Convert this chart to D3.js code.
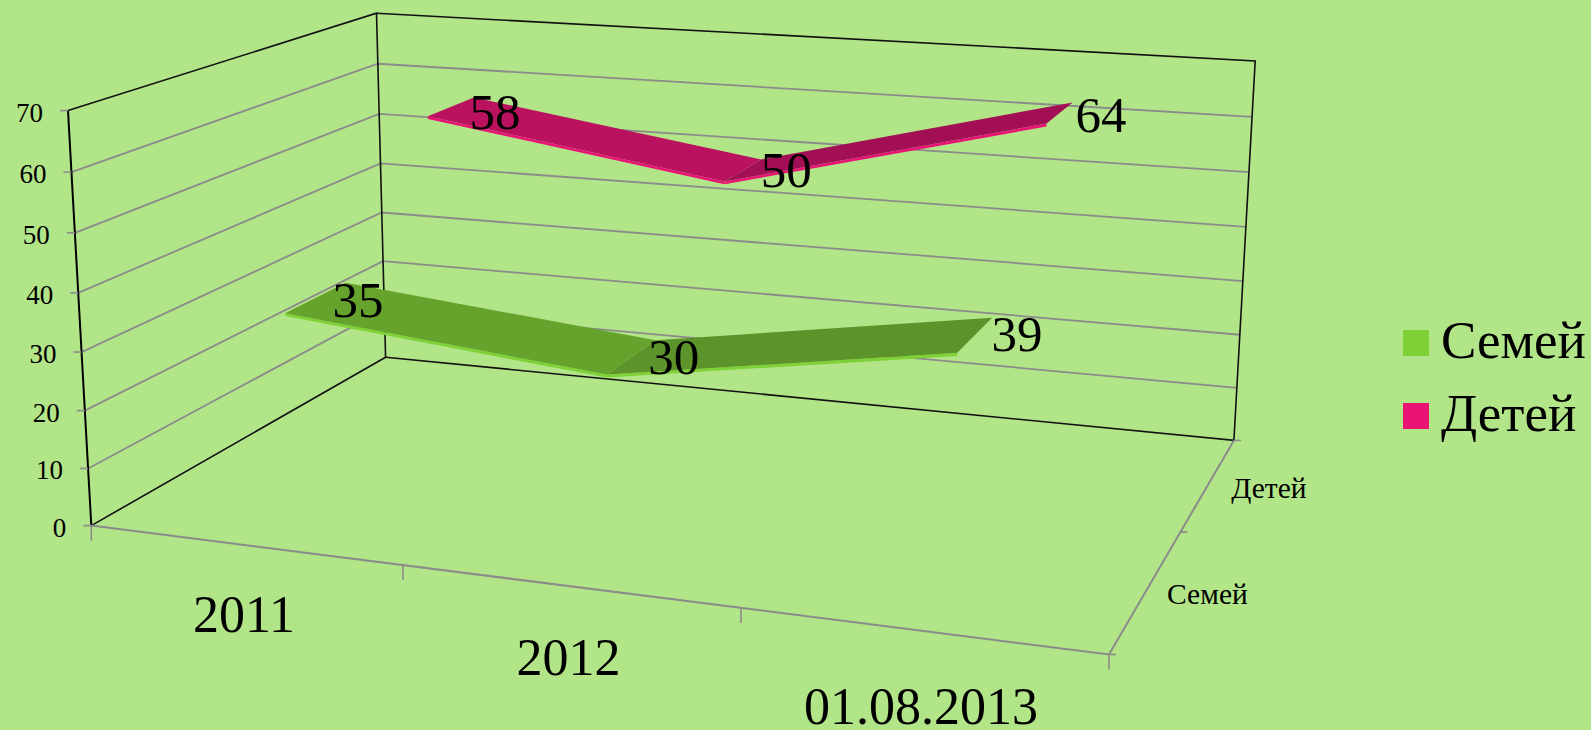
<!DOCTYPE html>
<html>
<head>
<meta charset="utf-8">
<script src="https://cdn.jsdelivr.net/npm/d3@7"></script>
<style>
  html, body { margin: 0; padding: 0; background: #b2e488; overflow: hidden; }
  text { font-family: "Liberation Serif", serif; fill: #000; }
</style>
</head>
<body>
<script>
// --- Data ---
const categories = ["2011", "2012", "01.08.2013"];
const seriesNames = ["Семей", "Детей"];
const familyValues = [35, 30, 39];
const childValues = [58, 50, 64];
const valueTicks = [0, 10, 20, 30, 40, 50, 60, 70];
const seriesValues = [familyValues, childValues];

// --- Colours per series: edge, falling segment, rising segment ---
const edgeColors = ["#7ed136", "#ea1476"];
const fallColors = ["#66a32d", "#bb1260"];
const riseColors = ["#5c932a", "#a30f54"];

const width = 1591, height = 730;

// --- Screen position of the box corners: [left bottom, right bottom, right top, left top] ---
const frontQuad = [[91.3, 525.6], [1109, 654.5], [1133, 188], [68, 110.6]];
const backQuad = [[385.6, 357.2], [1233.9, 440.4], [1255.2, 60.9], [376.5, 13.2]];
const depthWeight = 0.75; // front plane is nearer, so it weighs less in z

// --- Scales into the unit cube ---
const xScale = d3.scaleBand().domain(categories).range([0, 1]);
const yScale = d3.scaleLinear().domain([0, 70]).range([0, 1]);
const zScale = d3.scaleBand().domain(seriesNames).range([0, 1]);

// --- Perspective mapping of the unit square onto a quad ---
function quadMap([p0, p1, p2, p3]) {
  const dx1 = p1[0] - p2[0], dx2 = p3[0] - p2[0], sx = p0[0] - p1[0] + p2[0] - p3[0];
  const dy1 = p1[1] - p2[1], dy2 = p3[1] - p2[1], sy = p0[1] - p1[1] + p2[1] - p3[1];
  const den = dx1 * dy2 - dx2 * dy1;
  const g = (sx * dy2 - dx2 * sy) / den;
  const h = (dx1 * sy - sx * dy1) / den;
  return (u, v) => {
    const w = g * u + h * v + 1;
    return [
      ((p1[0] - p0[0] + g * p1[0]) * u + (p3[0] - p0[0] + h * p3[0]) * v + p0[0]) / w,
      ((p1[1] - p0[1] + g * p1[1]) * u + (p3[1] - p0[1] + h * p3[1]) * v + p0[1]) / w
    ];
  };
}
const frontMap = quadMap(frontQuad);
const backMap = quadMap(backQuad);
function project(x, y, z) {
  const f = frontMap(x, y), b = backMap(x, y);
  const wf = (1 - z) * depthWeight, wb = z;
  return [(wf * f[0] + wb * b[0]) / (wf + wb), (wf * f[1] + wb * b[1]) / (wf + wb)];
}

const svg = d3.select("body").append("svg")
  .attr("width", width)
  .attr("height", height)
  .style("display", "block")
  .style("background", "#b2e488");

const polyLine = (pts, color, w) =>
  svg.append("path")
    .attr("d", d3.line()(pts))
    .attr("fill", "none")
    .attr("stroke", color)
    .attr("stroke-width", w);

const gridColor = "#8b8b8b";

// --- Gridlines on the left and back wall ---
valueTicks.filter((t) => t > 0 && t < 70).forEach((t) => {
  const y = yScale(t);
  polyLine([project(0, y, 0), project(0, y, 1), project(1, y, 1)], gridColor, 1.8);
});

// --- Box frame ---
polyLine([project(0, 1, 0), project(0, 0, 0)], "#000", 2);
polyLine([project(0, 0, 0), project(0, 0, 1), project(0, 1, 1), project(0, 1, 0)], "#111", 1.6);
polyLine([project(0, 1, 1), project(1, 1, 1), project(1, 0, 1), project(0, 0, 1)], "#111", 1.6);

// --- Axis lines and ticks ---
polyLine([project(0, 0, 0), project(1, 0, 0), project(1, 0, 1)], gridColor, 2);
valueTicks.forEach((t) => {
  const p = project(0, yScale(t), 0);
  polyLine([[p[0] - 8, p[1]], p], gridColor, 1.6);
  svg.append("text")
    .attr("x", p[0] - 25)
    .attr("y", p[1] + 11)
    .attr("text-anchor", "end")
    .attr("font-size", 27)
    .text(t);
});
d3.range(categories.length + 1).forEach((i) => {
  const p = project(i / categories.length, 0, 0);
  polyLine([p, [p[0], p[1] + 15]], gridColor, 1.6);
});
d3.range(seriesNames.length + 1).forEach((i) => {
  const p = project(1, 0, i / seriesNames.length);
  polyLine([p, [p[0] + 7, p[1]]], gridColor, 1.6);
});

// --- Category and series labels ---
const categoryDrop = [87, 89, 93];
categories.forEach((name, i) => {
  const p = project(xScale(name) + xScale.bandwidth() / 2, 0, 0);
  svg.append("text")
    .attr("x", p[0])
    .attr("y", p[1] + categoryDrop[i])
    .attr("text-anchor", "middle")
    .attr("font-size", 52)
    .text(name);
});
seriesNames.forEach((name) => {
  const p = project(1, 0, zScale(name) + zScale.bandwidth() / 2);
  svg.append("text")
    .attr("x", p[0] + 60)
    .attr("y", p[1] + 15)
    .attr("text-anchor", "middle")
    .attr("font-size", 29.5)
    .text(name);
});

// --- Ribbons ---
const ribbonDepth = 0.19;
const nearGap = 0.11;
const edgeThickness = 0.5; // in value units
const labelNudge = [[[37, 5], [38, 3], [39, 2]], [[40, 7], [40, 2], [39, 4]]];

seriesNames.forEach((name, s) => {
  const values = seriesValues[s];
  const zMid = zScale(name) + zScale.bandwidth() / 2;
  const zNear = zMid - nearGap;
  const zFar = zNear + ribbonDepth;
  const xAt = (i) => xScale(categories[i]) + xScale.bandwidth() / 2;

  d3.range(values.length - 1).forEach((i) => {
    const x0 = xAt(i), x1 = xAt(i + 1);
    const y0 = yScale(values[i]), y1 = yScale(values[i + 1]);
    const yEdge0 = yScale(values[i] - edgeThickness), yEdge1 = yScale(values[i + 1] - edgeThickness);
    svg.append("path")
      .attr("d", d3.line()([project(x0, y0, zNear), project(x1, y1, zNear), project(x1, yEdge1, zNear), project(x0, yEdge0, zNear)]) + "Z")
      .attr("fill", edgeColors[s]);
    svg.append("path")
      .attr("d", d3.line()([project(x0, y0, zNear), project(x1, y1, zNear), project(x1, y1, zFar), project(x0, y0, zFar)]) + "Z")
      .attr("fill", values[i + 1] < values[i] ? fallColors[s] : riseColors[s]);
  });

  values.forEach((v, i) => {
    const p = project(xAt(i), yScale(v), zMid);
    svg.append("text")
      .attr("x", p[0] + labelNudge[s][i][0])
      .attr("y", p[1] + labelNudge[s][i][1] + 17)
      .attr("text-anchor", "middle")
      .attr("font-size", 51)
      .text(v);
  });
});

// --- Legend ---
const legendY = d3.scalePoint().domain(seriesNames).range([330, 403]);
seriesNames.forEach((name, s) => {
  svg.append("rect")
    .attr("x", 1403)
    .attr("y", legendY(name))
    .attr("width", 26)
    .attr("height", 26)
    .attr("fill", edgeColors[s]);
  svg.append("text")
    .attr("x", 1441)
    .attr("y", legendY(name) + 28)
    .attr("font-size", 53)
    .text(name);
});
</script>
</body>
</html>
